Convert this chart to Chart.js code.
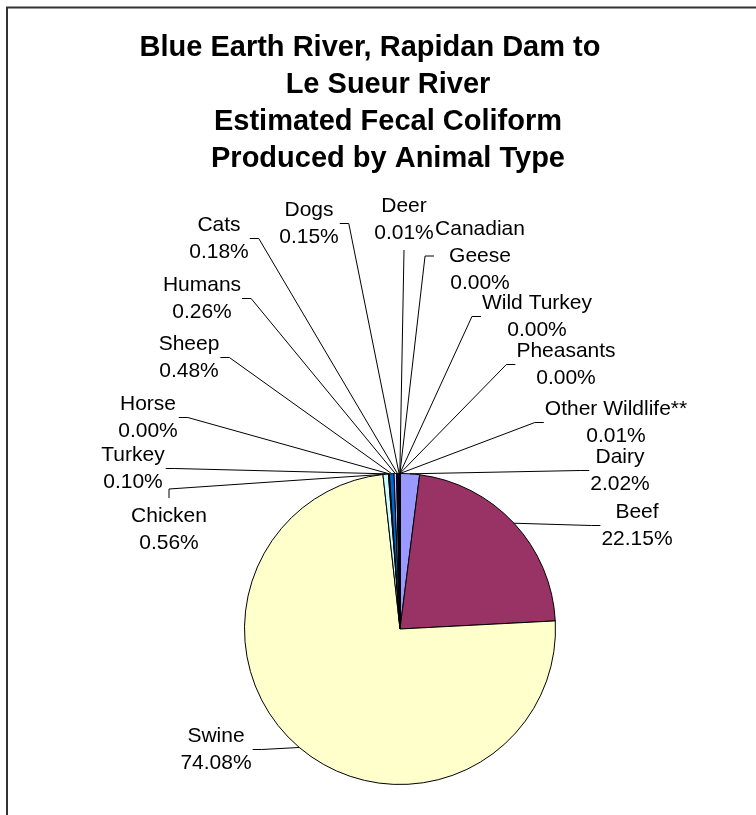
<!DOCTYPE html>
<html>
<head>
<meta charset="utf-8">
<script src="https://cdn.jsdelivr.net/npm/chart.js@4.4.1/dist/chart.umd.min.js"></script>
<style>
  html, body { margin: 0; padding: 0; background: #fff; }
  #wrap { position: relative; width: 756px; height: 815px; }
</style>
</head>
<body>
<div id="wrap"><canvas id="chart" width="756" height="815"></canvas></div>
<script>
// Datos de la gráfica (porcentajes)
const animals = ['Dairy', 'Beef', 'Swine', 'Chicken', 'Turkey', 'Horse', 'Sheep', 'Humans',
  'Cats', 'Dogs', 'Deer', 'Canadian Geese', 'Wild Turkey', 'Pheasants', 'Other Wildlife**'];
const percents = [2.02, 22.15, 74.08, 0.56, 0.10, 0.00, 0.48, 0.26, 0.18, 0.15, 0.01, 0.00, 0.00, 0.00, 0.01];
const sliceColors = ['#9999FF', '#993366', '#FFFFCC', '#CCFFFF', '#660066', '#FF8080', '#0066CC', '#CCCCFF',
  '#000080', '#FF00FF', '#FFFF00', '#00FFFF', '#800080', '#800000', '#008080'];
const titleLines = ['Blue Earth River, Rapidan Dam to', 'Le Sueur River', 'Estimated Fecal Coliform', 'Produced by Animal Type'];

const FONT = '"Liberation Sans", Arial, sans-serif';

// Posición de cada etiqueta (centro de la primera línea) y lado donde arranca la línea guía
const labelSpots = [
  { x: 620, y: 457, side: 'left' },   // Dairy
  { x: 637, y: 512, side: 'left' },   // Beef
  { x: 216, y: 736, side: 'right' },  // Swine
  { x: 169, y: 516, side: 'top' },    // Chicken
  { x: 133, y: 455, side: 'right' },  // Turkey
  { x: 148, y: 404, side: 'right' },  // Horse
  { x: 189, y: 344, side: 'right' },  // Sheep
  { x: 202, y: 285, side: 'right' },  // Humans
  { x: 219, y: 225, side: 'right' },  // Cats
  { x: 309, y: 210, side: 'right' },  // Dogs
  { x: 404, y: 206, side: 'bottom' }, // Deer
  { x: 480, y: 229, side: 'left', wrap: true }, // Canadian Geese
  { x: 537, y: 303, side: 'left' },   // Wild Turkey
  { x: 566, y: 351, side: 'left' },   // Pheasants
  { x: 616, y: 409, side: 'left' }    // Other Wildlife
];

const frameAndTitle = {
  id: 'frameAndTitle',
  beforeDraw(chart) {
    const ctx = chart.ctx;
    ctx.save();
    ctx.fillStyle = '#fff';
    ctx.fillRect(0, 0, chart.width, chart.height);
    ctx.strokeStyle = '#333';
    ctx.lineWidth = 2;
    ctx.strokeRect(7, 7.5, 900, 900);
    ctx.fillStyle = '#000';
    ctx.font = 'bold 29px ' + FONT;
    ctx.textAlign = 'center';
    ctx.textBaseline = 'middle';
    const centers = [370, 388, 388, 388];
    titleLines.forEach((t, i) => ctx.fillText(t, centers[i], 48 + i * 37));
    ctx.restore();
  }
};

const sliceLabels = {
  id: 'sliceLabels',
  afterDatasetsDraw(chart) {
    const ctx = chart.ctx;
    const arcs = chart.getDatasetMeta(0).data;
    const lineH = 27;
    ctx.save();
    ctx.font = '21px ' + FONT;
    ctx.textAlign = 'center';
    ctx.textBaseline = 'middle';
    ctx.strokeStyle = '#000';
    ctx.lineWidth = 1;
    labelSpots.forEach((spot, i) => {
      const name = animals[i];
      const lines = spot.wrap ? name.split(' ') : [name];
      lines.push(percents[i].toFixed(2) + '%');
      const w = Math.max(...lines.map(l => ctx.measureText(l).width));
      const midY = spot.y + (lines.length - 1) * lineH / 2;
      const lastY = spot.y + (lines.length - 1) * lineH;

      // punto sobre el borde del sector, a la mitad de su ángulo
      const a = arcs[i];
      const mid = (a.startAngle + a.endAngle) / 2;
      const px = a.x + Math.cos(mid) * a.outerRadius;
      const py = a.y + Math.sin(mid) * a.outerRadius;

      let start, elbow;
      if (spot.side === 'left') {
        start = [spot.x - w / 2 - 1, midY]; elbow = [start[0] - 9, midY];
      } else if (spot.side === 'right') {
        start = [spot.x + w / 2 + 1, midY]; elbow = [start[0] + 9, midY];
      } else if (spot.side === 'top') {
        start = [spot.x, spot.y - 18]; elbow = [spot.x, spot.y - 27];
      } else {
        start = [spot.x, lastY + 17]; elbow = start;
      }
      ctx.beginPath();
      ctx.moveTo(start[0], start[1]);
      ctx.lineTo(elbow[0], elbow[1]);
      ctx.lineTo(px, py);
      ctx.stroke();

      ctx.fillStyle = '#000';
      lines.forEach((l, k) => ctx.fillText(l, spot.x, spot.y + k * lineH));
    });
    ctx.restore();
  }
};

new Chart(document.getElementById('chart'), {
  type: 'pie',
  data: {
    labels: animals,
    datasets: [{
      data: percents,
      backgroundColor: sliceColors,
      borderColor: '#000',
      borderWidth: 1
    }]
  },
  options: {
    responsive: false,
    animation: false,
    layout: { padding: { left: 244, top: 473, right: 200, bottom: 30 } },
    plugins: { legend: { display: false }, tooltip: { enabled: false }, title: { display: false } }
  },
  plugins: [frameAndTitle, sliceLabels]
});
</script>
</body>
</html>
